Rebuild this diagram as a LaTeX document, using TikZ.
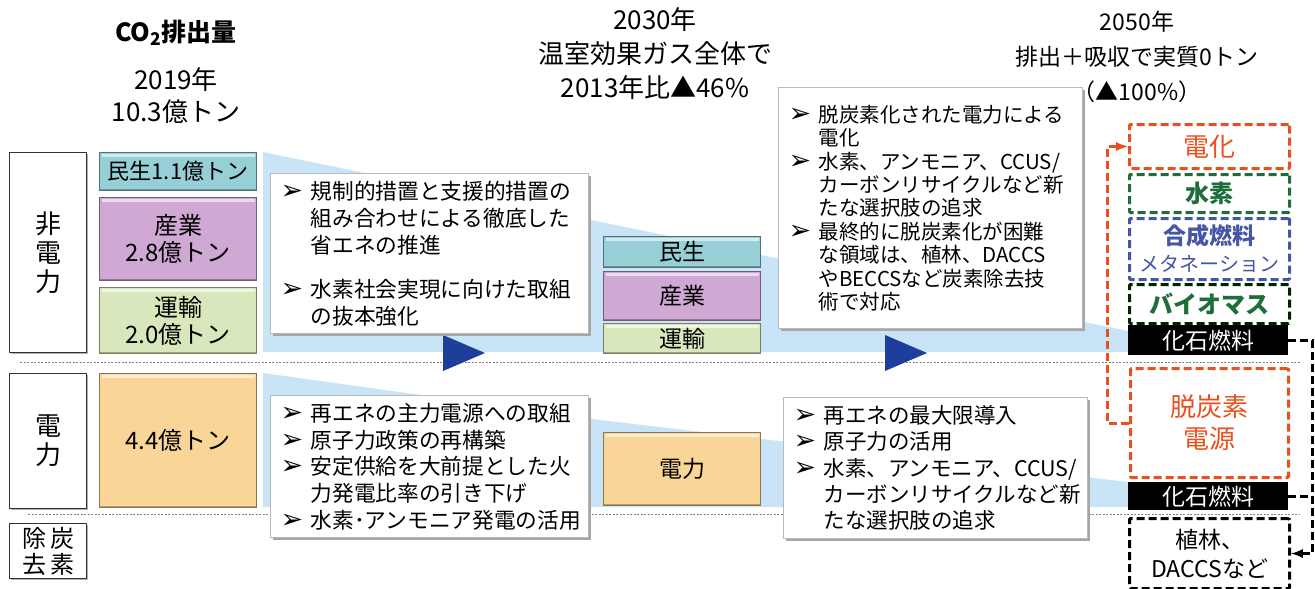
\documentclass[tikz,border=0pt]{standalone}
\usepackage{fontspec}
\setmainfont{Noto Sans CJK JP}
\newfontfamily\symfont{DejaVu Sans}
\usepackage{tikz}
\usetikzlibrary{shadows}
\definecolor{bgblue}{RGB}{200,228,246}
\definecolor{triblue}{RGB}{30,62,155}
\definecolor{minseicol}{RGB}{150,208,214}
\definecolor{sangyocol}{RGB}{207,168,212}
\definecolor{unyucol}{RGB}{216,232,188}
\definecolor{denryokucol}{RGB}{249,214,152}
\definecolor{orgcol}{RGB}{232,80,30}
\definecolor{grncol}{RGB}{30,110,60}
\definecolor{blucol}{RGB}{70,85,165}
\tikzset{head/.style={align=center, font=\fontsize{26}{34}\selectfont, inner sep=0pt},
         lblbox/.style={draw=black!80, fill=white, line width=1.2pt, anchor=north west,
         inner sep=0pt, align=center, minimum width=77pt,
         drop shadow={shadow xshift=1.5pt, shadow yshift=-1.5pt, fill=gray!60, opacity=1}},
         catbox/.style={draw=#1!55!black, fill=#1, line width=1pt, anchor=north west,
         inner sep=0pt, align=center, minimum width=157pt,
         path picture={
           \draw [white, line width=3pt, opacity=.6]
           ([xshift=2pt,yshift=-2.5pt]path picture bounding box.north west) --
           ([xshift=-2pt,yshift=-2.5pt]path picture bounding box.north east);
           \draw [#1!45!black, line width=3pt, opacity=.5]
           (path picture bounding box.south west) -- (path picture bounding box.south east);}},
         txtbox/.style={draw=gray!55, fill=white, line width=1.2pt, anchor=north west,
         align=left, inner xsep=10pt, inner ysep=0pt,
         drop shadow={shadow xshift=2.5pt, shadow yshift=-2.5pt, fill=gray!70, opacity=1}},
         dashbox/.style={dash pattern=on 8pt off 4pt, line width=3pt, rounded corners=1pt,
         fill=white, anchor=north west, inner sep=0pt, align=center, minimum width=160pt},
         fossilbox/.style={fill=black, text=white, anchor=north west, inner sep=0pt,
         minimum width=160pt, font=\fontsize{23}{23}\selectfont},
         link/.style={line width=3pt, dash pattern=on 8pt off 4pt},
         sepline/.style={gray, line width=1pt, dash pattern=on 2pt off 1.5pt}}
\newcommand{\bul}{\makebox[30pt][l]{\symfont\fontsize{27}{27}\selectfont ➢}}
\newcommand{\ind}{\makebox[30pt]{}}

\begin{document}
\begin{tikzpicture}[x=1pt,y=-1pt]
\useasboundingbox (0,0) rectangle (1315,589);

\fill [bgblue] (263,152) -- (1128,331) -- (1128,352) -- (263,352) -- cycle;
\fill [bgblue] (263,373) -- (600,420) -- (1128,482) -- (1128,507) -- (263,507) -- cycle;

\draw [sepline] (20,362) -- (1300,362);
\draw [sepline] (28,514) -- (1300,514);

\fill [triblue] (443,335) -- (485,353) -- (443,371) -- cycle;
\fill [triblue] (885,335) -- (927,353) -- (885,371) -- cycle;

\node [head, font=\bfseries\fontsize{25}{25}\selectfont] (co2) at (176,33) {CO\textsubscript{2}排出量};
\node [head, font=\fontsize{26}{32}\selectfont] (y2019) at (176,96) {2019年\\10.3億トン};
\node [head] (y2030) at (655,54) {2030年\\温室効果ガス全体で\\2013年比▲46\%};
\node [head, font=\fontsize{23}{35}\selectfont] (y2050) at (1137,57) {2050年\\排出＋吸収で実質0トン\\（▲100\%）};

\node [lblbox, minimum height=200pt, font=\fontsize{26}{29}\selectfont] (hidenryoku) at (9,152) {非\\電\\力};
\node [lblbox, minimum height=135pt, font=\fontsize{26}{29}\selectfont] (denryoku) at (9,373) {電\\力};
\node [lblbox, minimum height=55pt, font=\fontsize{24}{26}\selectfont] (tanso) at (9,523) {除\,炭\\去\,素};

\node [catbox=minseicol, minimum height=38pt, font=\fontsize{22}{22}\selectfont] (minsei19) at (99,152) {民生1.1億トン};
\node [catbox=sangyocol, minimum height=83pt, font=\fontsize{24}{27}\selectfont] (sangyo19) at (99,197) {産業\\2.8億トン};
\node [catbox=unyucol, minimum height=66pt, font=\fontsize{24}{27}\selectfont] (unyu19) at (99,287) {運輸\\2.0億トン};
\node [catbox=denryokucol, minimum height=134pt, font=\fontsize{24}{24}\selectfont] (denryoku19) at (99,373) {4.4億トン};

\node [txtbox, text width=298pt, minimum height=160pt, font=\fontsize{21.7}{27}\selectfont] (boxa) at (270,173) {%
\bul 規制的措置と支援的措置の\\
\ind 組み合わせによる徹底した\\
\ind 省エネの推進\\[17pt]
\bul 水素社会実現に向けた取組\\
\ind の抜本強化};
\node [txtbox, text width=298pt, minimum height=142pt, font=\fontsize{21.7}{26.7}\selectfont] (boxb) at (270,395) {%
\bul 再エネの主力電源への取組\\
\bul 原子力政策の再構築\\
\bul 安定供給を大前提とした火\\
\ind 力発電比率の引き下げ\\
\bul 水素･アンモニア発電の活用};

\node [catbox=minseicol, minimum height=31pt, font=\fontsize{23}{23}\selectfont] (minsei30) at (603,236) {民生};
\node [catbox=sangyocol, minimum height=49pt, font=\fontsize{23}{23}\selectfont] (sangyo30) at (603,271) {産業};
\node [catbox=unyucol, minimum height=30pt, font=\fontsize{23}{23}\selectfont] (unyu30) at (603,323) {運輸};
\node [catbox=denryokucol, minimum height=73pt, font=\fontsize{23}{23}\selectfont] (denryoku30) at (603,432) {電力};

\node [txtbox, text width=284pt, minimum height=241pt, font=\fontsize{20.5}{23.4}\selectfont] (boxc) at (778,87) {%
\bul 脱炭素化された電力による\\
\ind 電化\\
\bul 水素、アンモニア、CCUS/\\
\ind カーボンリサイクルなど新\\
\ind たな選択肢の追求\\
\bul 最終的に脱炭素化が困難\\
\ind な領域は、植林、DACCS\\
\ind やBECCSなど炭素除去技\\
\ind 術で対応};
\node [txtbox, text width=284pt, minimum height=141pt, font=\fontsize{21.5}{26.3}\selectfont] (boxd) at (783,397) {%
\bul 再エネの最大限導入\\
\bul 原子力の活用\\
\bul 水素、アンモニア、CCUS/\\
\ind カーボンリサイクルなど新\\
\ind たな選択肢の追求};

\node [dashbox, draw=orgcol, text=orgcol, minimum height=44pt, font=\fontsize{26}{26}\selectfont] (denka) at (1128,123) {電化};
\node [dashbox, draw=grncol, text=grncol, minimum height=38pt, font=\bfseries\fontsize{24}{24}\selectfont] (suiso) at (1128,173) {水素};
\node [dashbox, draw=blucol, text=blucol, minimum height=61pt, font=\fontsize{20}{27}\selectfont] (gosei) at (1128,217) {{\bfseries\fontsize{23}{23}\selectfont 合成燃料}\\メタネーション};
\node [dashbox, draw=black!85!green, text=grncol, minimum height=39pt, font=\bfseries\fontsize{24}{24}\selectfont] (bio) at (1128,283) {バイオマス};
\node [fossilbox, minimum height=30pt] (fossila) at (1128,325) {化石燃料};
\node [dashbox, draw=orgcol, text=orgcol, minimum height=109pt, minimum width=158pt, font=\fontsize{26}{32}\selectfont] (datsu) at (1129,367) {脱炭素\\電源};
\node [fossilbox, minimum height=28pt] (fossilb) at (1128,482) {化石燃料};
\node [dashbox, draw=black, minimum height=70pt, font=\fontsize{23}{29}\selectfont] (shokurin) at (1128,517) {植林、\\DACCSなど};

\draw [link, orgcol, -latex] (datsu.west) -- ++(-22,0) |- (denka.west);
\draw [link, black, -latex] (fossila.east) -- ++(24,0) |- (shokurin.east);
\draw [link, black] (fossilb.east) -- ++(24,0);

\end{tikzpicture}
\end{document}
